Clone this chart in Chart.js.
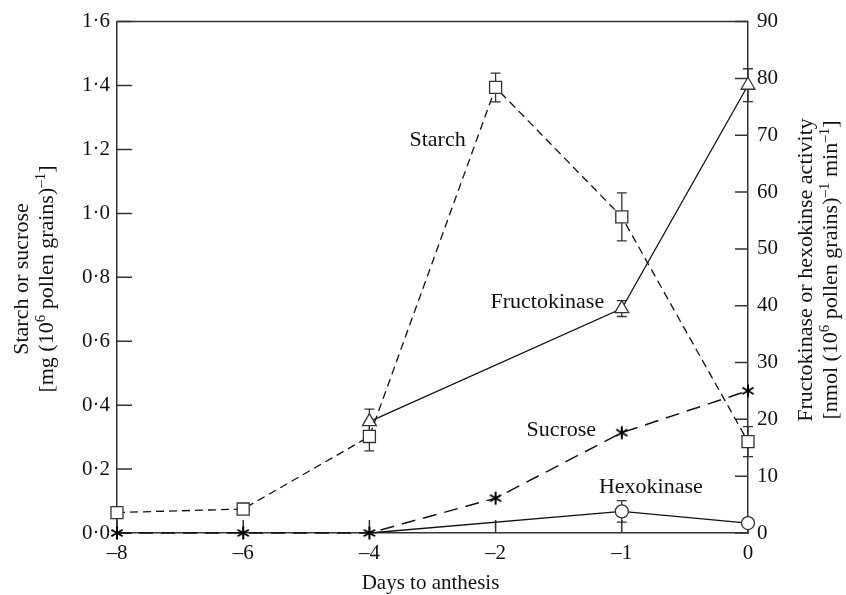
<!DOCTYPE html>
<html>
<head>
<meta charset="utf-8">
<script src="https://cdn.jsdelivr.net/npm/chart.js@4/dist/chart.umd.min.js"></script>
<style>
  html, body { margin: 0; padding: 0; background: #fff; }
  #wrap { width: 846px; height: 595px; }
</style>
</head>
<body>
<div id="wrap"><canvas id="c" width="846" height="595"></canvas></div>
<script>
// Days before anthesis (category axis)
const days = ['–8', '–6', '–4', '–2', '–1', '0'];

// Starch and sucrose, mg (10^6 pollen grains)^-1  (left axis)
const starch    = [0.064, 0.075, 0.302, 1.394, 0.989, 0.286];
const starchErr = [null, null, 0.045, 0.045, 0.075, 0.047];
const sucrose   = [0, 0, 0, 0.109, 0.314, 0.445];

// Enzyme activities, nmol (10^6 pollen grains)^-1 min^-1  (right axis)
const fructokinase    = [null, null, 19.6, null, 39.5, 78.8];
const fructokinaseErr = [null, null, 2.2, null, 1.4, 2.9];
const hexokinase      = [null, null, 0, null, 3.8, 1.75];
const hexokinaseErr   = [null, null, null, null, 1.9, null];

// Axis ticks
const leftTicks  = [0, 0.2, 0.4, 0.6, 0.8, 1.0, 1.2, 1.4, 1.6];
const rightTicks = [0, 10, 20, 30, 40, 50, 60, 70, 80, 90];

// Curve labels, anchored in data coordinates (category index, left-axis value)
const curveLabels = [
  { text: 'Starch',       x: 2.54, y: 1.229 },
  { text: 'Fructokinase', x: 3.41, y: 0.723 },
  { text: 'Sucrose',      x: 3.52, y: 0.323 },
  { text: 'Hexokinase',   x: 4.23, y: 0.142 }
];

const SERIF = '"Liberation Serif", "Times New Roman", serif';
const INK = '#111';
const AXIS = '#333';
const TICK_FONT = 21;
const TEXT_FONT = 22;

// Six-armed asterisk marker used for sucrose
function asteriskMarker() {
  const c = document.createElement('canvas');
  c.width = 16; c.height = 16;
  const g = c.getContext('2d');
  g.strokeStyle = '#000';
  g.lineWidth = 2;
  g.lineCap = 'butt';
  const r = 6.5;
  [90, 30, -30].forEach(a => {
    const t = a * Math.PI / 180;
    g.beginPath();
    g.moveTo(8 - r * Math.cos(t), 8 - r * Math.sin(t));
    g.lineTo(8 + r * Math.cos(t), 8 + r * Math.sin(t));
    g.stroke();
  });
  return c;
}

// Draws a run of text pieces, some raised as superscripts, centred on (0,0)
function drawRich(ctx, parts, size) {
  const supSize = Math.round(size * 0.68);
  let total = 0;
  const widths = parts.map(p => {
    ctx.font = (p.sup ? supSize : size) + 'px ' + SERIF;
    const w = ctx.measureText(p.t).width;
    total += w;
    return w;
  });
  let x = -total / 2;
  parts.forEach((p, i) => {
    ctx.font = (p.sup ? supSize : size) + 'px ' + SERIF;
    ctx.textBaseline = 'alphabetic';
    ctx.textAlign = 'left';
    ctx.fillText(p.t, x, p.sup ? -size * 0.38 : 0);
    x += widths[i];
  });
}

// Marker radius per point: no marker where a series only starts from zero
const markerRadius = (vals, r, hidden) => vals.map((v, i) => (hidden.includes(i) ? 0 : r));

const decorations = {
  id: 'decorations',
  beforeDatasetsDraw(chart) {
    const { ctx, chartArea: a, scales } = chart;
    const x = scales.x, y = scales.y, y1 = scales.y1;
    ctx.save();
    ctx.strokeStyle = AXIS;
    ctx.lineWidth = 1.5;
    // top frame line
    ctx.beginPath();
    ctx.moveTo(a.left, a.top);
    ctx.lineTo(a.right, a.top);
    ctx.stroke();
    // inward tick marks
    ctx.beginPath();
    leftTicks.forEach(v => {
      const py = y.getPixelForValue(v);
      ctx.moveTo(a.left, py); ctx.lineTo(a.left + 15, py);
    });
    rightTicks.forEach(v => {
      const py = y1.getPixelForValue(v);
      ctx.moveTo(a.right, py); ctx.lineTo(a.right - 13, py);
    });
    days.forEach((d, i) => {
      const px = x.getPixelForValue(i);
      ctx.moveTo(px, a.bottom); ctx.lineTo(px, a.bottom - 13);
    });
    ctx.stroke();

    // error bars
    ctx.lineWidth = 1.3;
    ctx.strokeStyle = AXIS;
    const bars = (vals, errs, scale) => {
      vals.forEach((v, i) => {
        const e = errs[i];
        if (v == null || e == null) return;
        const px = x.getPixelForValue(i);
        const top = scale.getPixelForValue(v + e);
        const bot = scale.getPixelForValue(Math.max(v - e, scale.min));
        ctx.beginPath();
        ctx.moveTo(px, top); ctx.lineTo(px, bot);
        ctx.moveTo(px - 5, top); ctx.lineTo(px + 5, top);
        ctx.moveTo(px - 5, bot); ctx.lineTo(px + 5, bot);
        ctx.stroke();
      });
    };
    bars(starch, starchErr, y);
    bars(fructokinase, fructokinaseErr, y1);
    bars(hexokinase, hexokinaseErr, y1);
    ctx.restore();
  },
  afterDraw(chart) {
    const { ctx, chartArea: a, scales } = chart;
    ctx.save();
    ctx.fillStyle = INK;
    // curve labels
    ctx.font = TEXT_FONT + 'px ' + SERIF;
    ctx.textAlign = 'center';
    ctx.textBaseline = 'middle';
    curveLabels.forEach(l => {
      ctx.fillText(l.text, scales.x.getPixelForValue(l.x), scales.y.getPixelForValue(l.y));
    });
    // x-axis title
    ctx.font = TICK_FONT + 'px ' + SERIF;
    ctx.fillText('Days to anthesis', (a.left + a.right) / 2 - 2, 583);

    // left axis title (two lines, rotated)
    const midL = 279;
    ctx.save();
    ctx.translate(28, midL);
    ctx.rotate(-Math.PI / 2);
    drawRich(ctx, [{ t: 'Starch or sucrose' }], TEXT_FONT);
    ctx.restore();
    ctx.save();
    ctx.translate(53, midL);
    ctx.rotate(-Math.PI / 2);
    drawRich(ctx, [{ t: '[mg (10' }, { t: '6', sup: true }, { t: ' pollen grains)' }, { t: '–1', sup: true }, { t: ']' }], TEXT_FONT);
    ctx.restore();

    // right axis title (two lines, rotated)
    const midR = 270;
    ctx.save();
    ctx.translate(812, midR);
    ctx.rotate(-Math.PI / 2);
    drawRich(ctx, [{ t: 'Fructokinase or hexokinse activity' }], TEXT_FONT);
    ctx.restore();
    ctx.save();
    ctx.translate(837, midR);
    ctx.rotate(-Math.PI / 2);
    drawRich(ctx, [{ t: '[nmol (10' }, { t: '6', sup: true }, { t: ' pollen grains)' }, { t: '–1', sup: true }, { t: ' min' }, { t: '–1', sup: true }, { t: ']' }], TEXT_FONT);
    ctx.restore();
    ctx.restore();
  }
};

const star = asteriskMarker();

new Chart(document.getElementById('c'), {
  type: 'line',
  data: {
    labels: days,
    datasets: [
      {
        label: 'Starch', data: starch, yAxisID: 'y', clip: false,
        borderColor: INK, borderWidth: 1.3, borderDash: [8, 5],
        pointStyle: 'rect', pointRadius: 8.5, pointBorderWidth: 1.3,
        pointBackgroundColor: '#fff', pointBorderColor: AXIS, tension: 0
      },
      {
        label: 'Sucrose', data: sucrose, yAxisID: 'y', clip: false,
        borderColor: INK, borderWidth: 1.5, borderDash: [14, 8],
        pointStyle: star, pointRadius: 8, tension: 0
      },
      {
        label: 'Fructokinase', data: fructokinase, yAxisID: 'y1', spanGaps: true, clip: false,
        borderColor: INK, borderWidth: 1.3,
        pointStyle: 'triangle', pointRadius: 8, pointBorderWidth: 1.3,
        pointBackgroundColor: '#fff', pointBorderColor: AXIS, tension: 0
      },
      {
        label: 'Hexokinase', data: hexokinase, yAxisID: 'y1', spanGaps: true, clip: false,
        borderColor: INK, borderWidth: 1.3,
        pointStyle: 'circle', pointRadius: markerRadius(hexokinase, 6.5, [2]), pointBorderWidth: 1.3,
        pointBackgroundColor: '#fff', pointBorderColor: AXIS, tension: 0
      }
    ]
  },
  options: {
    responsive: false,
    animation: false,
    layout: { padding: { top: 21, left: 0, right: 0, bottom: 0 } },
    plugins: { legend: { display: false }, tooltip: { enabled: false } },
    elements: { point: { hoverRadius: 0 } },
    scales: {
      x: {
        type: 'category', offset: false,
        grid: { display: false, drawTicks: false },
        border: { display: true, color: AXIS, width: 1.5 },
        ticks: { color: INK, font: { family: SERIF, size: TICK_FONT }, padding: 8, maxRotation: 0, autoSkip: false },
        afterFit(s) { s.height = 62; }
      },
      y: {
        position: 'left', min: 0, max: 1.6,
        grid: { display: false, drawTicks: false },
        border: { display: true, color: AXIS, width: 1.5 },
        afterBuildTicks(s) { s.ticks = leftTicks.map(v => ({ value: v })); },
        ticks: {
          color: INK, font: { family: SERIF, size: TICK_FONT }, padding: 7,
          callback: v => Number(v).toFixed(1).replace('.', '·')
        },
        afterFit(s) { s.width = 117; }
      },
      y1: {
        position: 'right', min: 0, max: 90,
        grid: { display: false, drawTicks: false },
        border: { display: true, color: AXIS, width: 1.5 },
        afterBuildTicks(s) { s.ticks = rightTicks.map(v => ({ value: v })); },
        ticks: { color: INK, font: { family: SERIF, size: TICK_FONT }, padding: 9 },
        afterFit(s) { s.width = 98; }
      }
    }
  },
  plugins: [decorations]
});
</script>
</body>
</html>
